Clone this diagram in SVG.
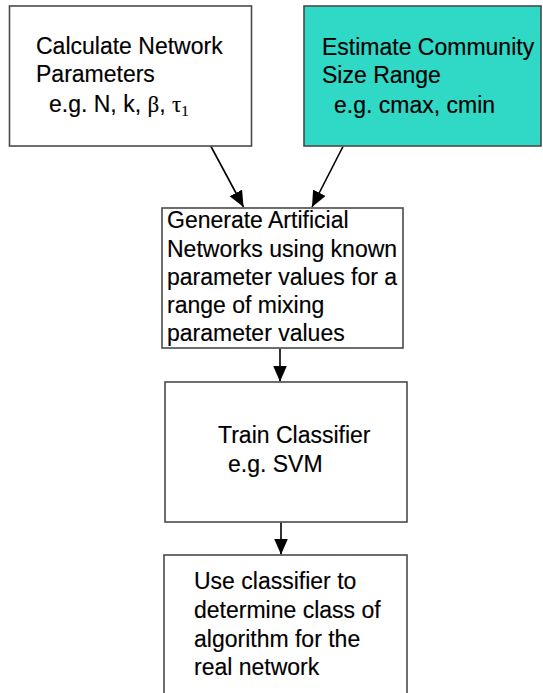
<svg xmlns="http://www.w3.org/2000/svg" width="543" height="693" viewBox="0 0 543 693">
  <style>
    .box { fill: #ffffff; stroke: #4a4a4a; stroke-width: 1.6; }
    .teal { fill: #2fd9c6; }
    .lbl { font-family: "Liberation Sans", Arial, sans-serif; font-size: 23px; fill: #000000; stroke: #000000; stroke-width: 0.15; }
    .sym { font-family: "Liberation Serif", "Times New Roman", serif; }
    .edge { stroke: #000000; stroke-width: 1.6; fill: none; marker-end: url(#arrow); }
  </style>
  <defs>
    <marker id="arrow" markerUnits="userSpaceOnUse" markerWidth="16" markerHeight="14" viewBox="0 0 16 14" refX="16" refY="7" orient="auto">
      <path d="M0,0 L16,7 L0,14 Z" fill="#000000"/>
    </marker>
  </defs>
  <rect width="543" height="693" fill="#ffffff"/>

  <g id="connectors">
    <line class="edge" x1="211" y1="146.5" x2="243.5" y2="207"/>
    <line class="edge" x1="343" y1="146.5" x2="312" y2="207"/>
    <line class="edge" x1="280" y1="348.5" x2="280" y2="381.5"/>
    <line class="edge" x1="281" y1="522.5" x2="281" y2="554.5"/>
  </g>

  <g id="calc-params">
    <rect class="box" x="9.5" y="6" width="242" height="140"/>
    <text class="lbl" x="36" y="54">Calculate Network</text>
    <text class="lbl" x="36" y="82">Parameters</text>
    <text class="lbl" x="49" y="112">e.g. N, k, <tspan class="sym">β</tspan>, <tspan class="sym">τ<tspan font-size="15" dy="4">1</tspan></tspan></text>
  </g>

  <g id="community-size">
    <rect class="box teal" x="304" y="6" width="237" height="140"/>
    <text class="lbl" x="322" y="55">Estimate Community</text>
    <text class="lbl" x="322" y="83">Size Range</text>
    <text class="lbl" x="334" y="113">e.g. cmax, cmin</text>
  </g>

  <g id="generate-networks">
    <rect class="box" x="162" y="208" width="241" height="140"/>
    <text class="lbl" x="167" y="228">Generate Artificial</text>
    <text class="lbl" x="167" y="256.5">Networks using known</text>
    <text class="lbl" x="167" y="284.5">parameter values for a</text>
    <text class="lbl" x="167" y="313">range of mixing</text>
    <text class="lbl" x="167" y="341">parameter values</text>
  </g>

  <g id="train-classifier">
    <rect class="box" x="165" y="382" width="242" height="140"/>
    <text class="lbl" x="218" y="443">Train Classifier</text>
    <text class="lbl" x="228" y="472">e.g. SVM</text>
  </g>

  <g id="apply-classifier">
    <rect class="box" x="164" y="555" width="243" height="150"/>
    <text class="lbl" x="194" y="589">Use classifier to</text>
    <text class="lbl" x="194" y="618">determine class of</text>
    <text class="lbl" x="194" y="647">algorithm for the</text>
    <text class="lbl" x="194" y="675">real network</text>
  </g>
</svg>
